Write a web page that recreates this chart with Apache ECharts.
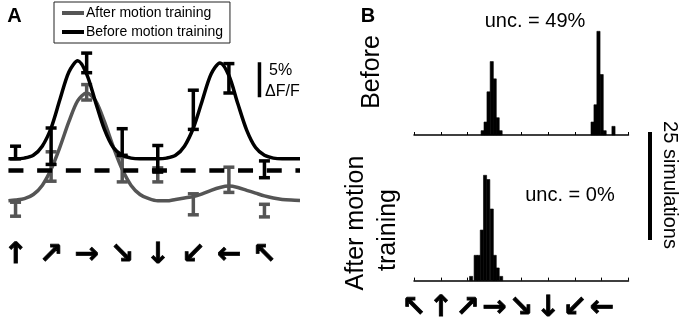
<!DOCTYPE html>
<html>
<head>
<meta charset="utf-8">
<script src="https://cdn.jsdelivr.net/npm/echarts@6/dist/echarts.min.js"></script>
<style>
  html, body { margin: 0; padding: 0; background: #fff; }
  #chart { width: 680px; height: 323px; }
</style>
</head>
<body>
<div id="chart"></div>
<script>
// ---- panel A: mean response per motion direction (% dF/F) ----
var arrowsA = ['↑', '↗', '→', '↘', '↓', '↙', '←', '↖'];
var dirIndex = [0, 1, 2, 3, 4, 5, 6, 7];
var beforeMean = [2.5, 3.4, 15.3, 4.0, 1.6, 8.6, 13.1, 0.1];
var beforeErr  = [0.9, 2.6, 1.4, 1.9, 1.9, 2.8, 2.1, 1.2];
var afterMean  = [-5.6, 0.5, 11.1, 0.1, -0.7, -4.9, -1.4, -5.8];
var afterErr   = [1.0, 2.1, 1.1, 1.8, 1.0, 1.5, 1.8, 0.9];

// fitted tuning curves
var fitX = [-0.2, 0, 0.25, 0.5, 0.75, 1, 1.25, 1.5, 1.75, 2, 2.25, 2.5, 2.75, 3, 3.25, 3.5, 3.75,
            4, 4.25, 4.5, 4.75, 5, 5.25, 5.5, 5.75, 6, 6.25, 6.5, 6.75, 7, 7.25, 7.5, 7.75, 8];
var beforeFit = [1.6, 1.6, 1.7, 2.1, 3.4, 6.0, 10.1, 14.0, 15.6, 13.7, 9.7, 5.8, 3.2, 2.1, 1.7, 1.6, 1.6,
                 1.6, 1.7, 2.1, 3.4, 6.0, 9.9, 13.7, 15.3, 13.5, 9.5, 5.7, 3.2, 2.1, 1.7, 1.6, 1.6, 1.6];
var afterFit  = [-4.4, -4.3, -4.1, -3.5, -2.2, 0.1, 3.3, 6.9, 9.9, 11.0, 9.9, 6.9, 3.3, 0.1, -2.2, -3.5, -4.1,
                 -4.4, -4.4, -4.2, -4.0, -3.8, -3.4, -2.9, -2.5, -2.3, -2.5, -2.9, -3.3, -3.7, -4.0, -4.2, -4.3, -4.35];

// ---- panel B: decoded direction histograms (100 simulations) ----
var arrowsB = ['↖', '↑', '↗', '→', '↘', '↓', '↙', '←'];
var binWidth = 0.118;
var beforeBins   = [2.56, 2.67, 2.78, 2.90, 3.01, 3.12, 3.23, 6.66, 6.77, 6.88, 7.00, 7.11, 7.44];
var beforeCounts = [1, 3, 10, 17, 13, 4, 1, 3, 7, 24, 14, 1, 2];
var afterBins    = [2.13, 2.30, 2.41, 2.53, 2.65, 2.77, 2.90, 3.01, 3.12, 3.25];
var afterCounts  = [1, 6, 6, 12, 25, 24, 17, 6, 3, 1];

var FONT = 'Liberation Sans, Arial, sans-serif';
var GRAY = '#555555';

function pairs(xs, ys) { return xs.map(function (x, i) { return [x, ys[i]]; }); }
function errRows(mean, err) {
  return dirIndex.map(function (i) { return [i, mean[i] - err[i], mean[i] + err[i]]; });
}

function errorBarItem(color) {
  return function (params, api) {
    var x = api.value(0);
    var lo = api.coord([x, api.value(1)]);
    var hi = api.coord([x, api.value(2)]);
    var half = 5.5;
    var st = { stroke: color, lineWidth: 3.5 };
    return {
      type: 'group',
      children: [
        { type: 'line', shape: { x1: lo[0], y1: lo[1], x2: hi[0], y2: hi[1] }, style: st },
        { type: 'line', shape: { x1: lo[0] - half, y1: lo[1], x2: lo[0] + half, y2: lo[1] }, style: st },
        { type: 'line', shape: { x1: hi[0] - half, y1: hi[1], x2: hi[0] + half, y2: hi[1] }, style: st }
      ]
    };
  };
}

function binItem(params, api) {
  var c = api.value(0), n = api.value(1);
  var p0 = api.coord([c - binWidth / 2, n]);
  var p1 = api.coord([c + binWidth / 2, 0]);
  return {
    type: 'rect',
    shape: { x: p0[0], y: p0[1], width: p1[0] - p0[0], height: p1[1] - p0[1] },
    style: { fill: '#000', stroke: '#000', lineWidth: 0.6 }
  };
}

var arrowLabel = {
  fontFamily: 'DejaVu Sans', fontWeight: 'bold', fontSize: 29, color: '#000', lineHeight: 29,
  textBorderColor: '#000', textBorderWidth: 0.8
};

var histX = function (withLabels) {
  return {
    type: 'value', min: 0, max: 8,
    axisLine: { show: true, lineStyle: { color: '#000', width: 1.5 } },
    axisTick: { show: true, inside: true, length: 3, lineStyle: { color: '#000', width: 1 },
                customValues: [0, 1, 2, 3, 4, 5, 6, 7, 8] },
    splitLine: { show: false },
    axisLabel: withLabels ? Object.assign({
      show: true, margin: 13, customValues: dirIndex,
      formatter: function (v) { return arrowsB[v]; }
    }, arrowLabel) : { show: false }
  };
};
var hiddenY = function (max, min) {
  return {
    type: 'value', min: min, max: max,
    axisLine: { show: false }, axisTick: { show: false },
    axisLabel: { show: false }, splitLine: { show: false }
  };
};

var lineIcon = 'path://M0 0 H22 V4 H0 Z';

var option = {
  animation: false,
  backgroundColor: '#fff',
  textStyle: { fontFamily: FONT },
  grid: [
    { left: 8, width: 292, top: 51, height: 175 },
    { left: 414, width: 214.5, top: 27, height: 108 },
    { left: 414, width: 214.5, top: 175.3, height: 108 }
  ],
  xAxis: [
    {
      gridIndex: 0, type: 'value', min: -0.2, max: 8,
      axisLine: { show: false }, axisTick: { show: false }, splitLine: { show: false },
      axisLabel: Object.assign({
        show: true, margin: 15, customValues: dirIndex,
        formatter: function (v) { return arrowsA[v]; }
      }, arrowLabel)
    },
    Object.assign({ gridIndex: 1 }, histX(false)),
    Object.assign({ gridIndex: 2 }, histX(true))
  ],
  yAxis: [
    Object.assign({ gridIndex: 0 }, hiddenY(17, -8)),
    Object.assign({ gridIndex: 1 }, hiddenY(25, 0)),
    Object.assign({ gridIndex: 2 }, hiddenY(25, 0))
  ],
  legend: {
    data: [
      { name: 'After motion training', icon: lineIcon },
      { name: 'Before motion training', icon: lineIcon }
    ],
    orient: 'vertical', left: 54, top: 2,
    itemWidth: 22, itemHeight: 14, itemGap: 5,
    padding: [4, 7, 4, 8],
    borderColor: '#222', borderWidth: 1,
    selectedMode: false,
    textStyle: { fontFamily: FONT, fontSize: 14, color: '#000', padding: [0, 0, 0, -3] }
  },
  series: [
    {
      name: 'After motion training', type: 'line', xAxisIndex: 0, yAxisIndex: 0,
      data: pairs(fitX, afterFit), smooth: 0.3, symbol: 'none',
      lineStyle: { color: GRAY, width: 3.5 }, itemStyle: { color: GRAY },
      markLine: {
        silent: true, symbol: 'none', label: { show: false },
        lineStyle: { color: '#000', width: 4.5, type: [15, 13.7] },
        data: [{ yAxis: 0 }]
      },
      z: 2
    },
    {
      name: 'After errors', type: 'custom', xAxisIndex: 0, yAxisIndex: 0,
      renderItem: errorBarItem(GRAY), encode: { x: 0, y: [1, 2] },
      data: errRows(afterMean, afterErr), z: 3
    },
    {
      name: 'Before motion training', type: 'line', xAxisIndex: 0, yAxisIndex: 0,
      data: pairs(fitX, beforeFit), smooth: 0.3, symbol: 'none',
      lineStyle: { color: '#000', width: 3.5 }, itemStyle: { color: '#000' }, z: 4
    },
    {
      name: 'Before errors', type: 'custom', xAxisIndex: 0, yAxisIndex: 0,
      renderItem: errorBarItem('#000'), encode: { x: 0, y: [1, 2] },
      data: errRows(beforeMean, beforeErr), z: 5
    },
    {
      // 5% dF/F scale bar
      name: 'scale', type: 'line', xAxisIndex: 0, yAxisIndex: 0,
      data: [[6.86, 10.4], [6.86, 15.4]], symbol: 'none',
      lineStyle: { color: '#000', width: 3.5 }
    },
    {
      name: 'Before hist', type: 'custom', xAxisIndex: 1, yAxisIndex: 1,
      renderItem: binItem, encode: { x: 0, y: 1 },
      data: pairs(beforeBins, beforeCounts)
    },
    {
      name: 'After hist', type: 'custom', xAxisIndex: 2, yAxisIndex: 2,
      renderItem: binItem, encode: { x: 0, y: 1 },
      data: pairs(afterBins, afterCounts)
    }
  ],
  graphic: [
    { type: 'text', x: 14.5, y: 16, style: { text: 'A', font: 'bold 20px ' + FONT, fill: '#000', align: 'center', verticalAlign: 'middle' } },
    { type: 'text', x: 368, y: 16, style: { text: 'B', font: 'bold 20px ' + FONT, fill: '#000', align: 'center', verticalAlign: 'middle' } },
    { type: 'text', x: 269, y: 71, style: { text: '5%', font: '16px ' + FONT, fill: '#000', align: 'left', verticalAlign: 'middle' } },
    { type: 'text', x: 265, y: 92, style: { text: 'ΔF/F', font: '16px ' + FONT, fill: '#000', align: 'left', verticalAlign: 'middle' } },
    { type: 'text', x: 535, y: 21, style: { text: 'unc. = 49%', font: '20px ' + FONT, fill: '#000', align: 'center', verticalAlign: 'middle' } },
    { type: 'text', x: 570, y: 195, style: { text: 'unc. = 0%', font: '20px ' + FONT, fill: '#000', align: 'center', verticalAlign: 'middle' } },
    { type: 'text', x: 372, y: 72, rotation: Math.PI / 2, style: { text: 'Before', font: '25px ' + FONT, fill: '#000', align: 'center', verticalAlign: 'middle' } },
    { type: 'text', x: 356, y: 223, rotation: Math.PI / 2, style: { text: 'After motion', font: '25px ' + FONT, fill: '#000', align: 'center', verticalAlign: 'middle' } },
    { type: 'text', x: 388, y: 230, rotation: Math.PI / 2, style: { text: 'training', font: '25px ' + FONT, fill: '#000', align: 'center', verticalAlign: 'middle' } },
    { type: 'text', x: 670, y: 185, rotation: -Math.PI / 2, style: { text: '25 simulations', font: '20px ' + FONT, fill: '#000', align: 'center', verticalAlign: 'middle' } },
    // 25 simulations scale bar
    { type: 'rect', shape: { x: 648, y: 132, width: 4, height: 108 }, style: { fill: '#000' } }
  ]
};

var myChart = echarts.init(document.getElementById('chart'));
myChart.setOption(option);
</script>
</body>
</html>
